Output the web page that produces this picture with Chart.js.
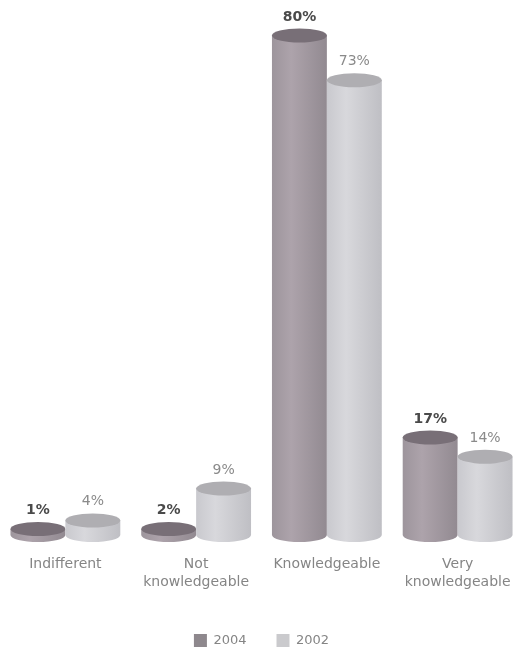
<!DOCTYPE html>
<html>
<head>
<meta charset="utf-8">
<script src="https://cdn.jsdelivr.net/npm/chart.js@4.4.1/dist/chart.umd.min.js"></script>
<style>
  html, body { margin: 0; padding: 0; background: #fff; }
  #wrap { width: 523px; height: 657px; position: relative; }
</style>
</head>
<body>
<div id="wrap"><canvas id="myChart"></canvas></div>
<script>
const categories = ['Indifferent', ['Not', 'knowledgeable'], 'Knowledgeable', ['Very', 'knowledgeable']];
const values2004 = [1, 2, 80, 17];
const values2002 = [4, 9, 73, 14];

// cylinder colours: left edge, highlight, right edge, top cap, value label, legend swatch
const shades = [
    { edge: '#9d959c', light: '#ada3ab', dark: '#928a91', cap: '#786f77', label: '#4a4a4a', bold: 'bold', swatch: '#8e888d' },
    { edge: '#c9c9ce', light: '#d8d8dc', dark: '#bfbfc4', cap: '#afaeb2', label: '#8a8a8a', bold: 'normal', swatch: '#cacacd' }
];

const cylinders = {
    id: 'cylinders',
    beforeDatasetDraw() {
        return false; // plain bars are replaced by the cylinders below
    },
    afterDatasetsDraw(chart) {
        const ctx = chart.ctx;
        const zero = chart.scales.y.getPixelForValue(0);
        const bottom = zero - 11;
        chart.data.datasets.forEach((ds, i) => {
            const meta = chart.getDatasetMeta(i);
            const s = shades[i];
            meta.data.forEach((bar, j) => {
                const rx = bar.width / 2;
                const ry = 7;
                const left = bar.x - rx;
                const top = Math.min(bar.y, bottom - 6);

                const grad = ctx.createLinearGradient(left, 0, left + bar.width, 0);
                grad.addColorStop(0, s.edge);
                grad.addColorStop(0.35, s.light);
                grad.addColorStop(1, s.dark);

                ctx.save();
                ctx.fillStyle = grad;
                ctx.beginPath();
                ctx.moveTo(left, top);
                ctx.lineTo(left, bottom);
                ctx.ellipse(bar.x, bottom, rx, ry, 0, Math.PI, 0, true);
                ctx.lineTo(left + bar.width, top);
                ctx.closePath();
                ctx.fill();

                ctx.fillStyle = s.cap;
                ctx.beginPath();
                ctx.ellipse(bar.x, top, rx, ry, 0, 0, Math.PI * 2);
                ctx.fill();

                ctx.fillStyle = s.label;
                ctx.font = s.bold + ' 14px "DejaVu Sans", sans-serif';
                ctx.textAlign = 'center';
                ctx.textBaseline = 'alphabetic';
                ctx.fillText(ds.data[j] + '%', bar.x, top - ry - 8);
                ctx.restore();
            });
        });
    }
};

new Chart(document.getElementById('myChart'), {
    type: 'bar',
    data: {
        labels: categories,
        datasets: [
            { label: '2004', data: values2004, backgroundColor: shades[0].swatch },
            { label: '2002', data: values2002, backgroundColor: shades[1].swatch }
        ]
    },
    options: {
        responsive: true,
        maintainAspectRatio: false,
        animation: false,
        layout: { padding: { top: 10, left: 0, right: 0, bottom: 0 } },
        datasets: {
            bar: { barPercentage: 1, categoryPercentage: 0.84 }
        },
        scales: {
            x: {
                grid: { display: false },
                border: { display: false },
                afterFit(scale) {
                    scale.height += 11;
                },
                ticks: {
                    color: '#858585',
                    font: { family: '"DejaVu Sans", sans-serif', size: 14, lineHeight: 1.25 },
                    padding: 2,
                    maxRotation: 0
                }
            },
            y: {
                display: false,
                min: 0,
                max: 84
            }
        },
        plugins: {
            legend: {
                position: 'bottom',
                labels: {
                    boxWidth: 13,
                    boxHeight: 13,
                    color: '#858585',
                    padding: 30,
                    font: { family: '"DejaVu Sans", sans-serif', size: 13 }
                }
            },
            tooltip: { enabled: false }
        }
    },
    plugins: [cylinders]
});
</script>
</body>
</html>
